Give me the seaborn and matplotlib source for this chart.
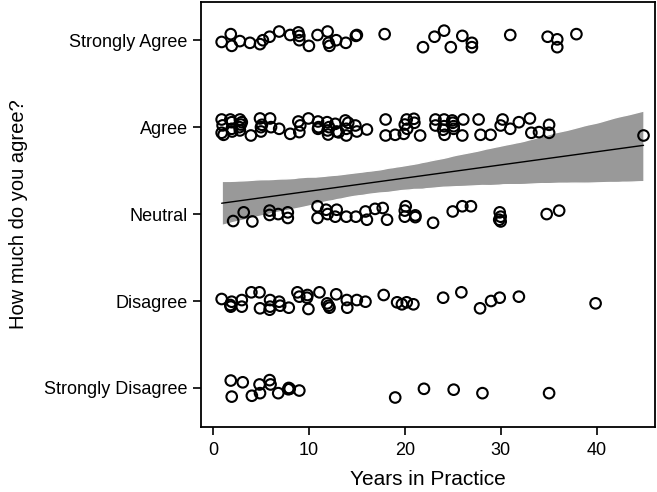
#likert answers vs years in practice

import numpy as np
import pandas as pd
import matplotlib
matplotlib.use("Agg")
import matplotlib.pyplot as plt
import seaborn as sns

#tick labels for the answer levels (1..5)
levels = ["Strongly Disagree", "Disagree", "Neutral", "Agree", "Strongly Agree"]

#years and vertical jitter, one pair of lists per answer
sa_years = [0.9, 1.85, 1.95, 2.8, 3.85, 4.9, 5.2, 5.9, 6.9, 8.05, 8.9, 9.0, 9.0, 10.0, 10.9,
            11.95, 12.05, 12.15, 12.85, 13.85, 14.9, 15.0, 17.9, 21.9, 23.1, 24.1, 24.8, 26.0,
            27.0, 27.0, 31.0, 34.9, 35.9, 35.9, 37.9]
sa_jit = [-0.02, 0.07, -0.065, -0.01, -0.03, -0.045, 0, 0.04, 0.1, 0.06, 0.09, 0.05, 0, -0.065, 0.06,
          0.1, -0.03, -0.065, 0, -0.03, 0.05, 0.06, 0.07, -0.08, 0.04, 0.11, -0.08, 0.05,
          -0.03, -0.08, 0.06, 0.04, 0.01, -0.08, 0.07]

ag_years = [0.9, 0.9, 1.1, 1.8, 1.95, 1.95, 2.8, 3.0, 2.8, 2.75, 3.95, 4.9, 5.0, 5.1, 5.0, 5.95, 6.05,
            6.9, 8.05, 8.9, 9.0, 9.95, 10.95, 10.95, 11.9, 11.95, 12.75, 12.9, 13.8, 13.9, 13.9,
            14.85, 15.0, 16.05, 1.0, 2.0, 2.9, 9.1, 12.1, 13.1, 14.1, 12.0, 11.0,
            18.0, 18.0, 19.0, 19.9, 20.2, 20.25, 20.95, 21.0, 21.6, 23.2, 23.2, 24.1, 24.1, 24.15,
            24.95, 25.1, 25.1, 26.0, 26.1, 27.7, 27.9, 28.95, 30.2, 30.0, 31.0, 31.9, 33.05, 33.2,
            34.0, 35.05, 35.05, 44.9, 20.0, 24.0, 25.0]
ag_jit = [0.088, -0.065, -0.088, 0.088, 0.057, -0.019, 0.088, 0.057, -0.038, 0, -0.096, 0.1, 0, 0.027,
          -0.05, 0.1, 0, -0.019, -0.077, 0.065, -0.057, 0.1, 0.065, -0.019, 0.057, -0.038, 0.038,
          -0.05, 0.077, -0.019, -0.096, 0.019, -0.05, -0.027, 0.02, -0.05, 0.03, 0.02, 0.0, -0.06,
          0.05, -0.085, 0.0,
          0.088, -0.096, -0.088, -0.077, 0.088, -0.019, 0.096, 0.05, -0.096, 0.088, 0.019, 0.088,
          0.011, -0.088, 0.077, 0.011, -0.019, -0.096, 0.088, 0.088, -0.088, -0.088, 0.088, 0.019,
          -0.019, 0.057, 0.1, -0.065, -0.057, 0.027, -0.065, -0.096, 0.03, -0.03, 0.05]

ne_years = [2.1, 3.2, 4.1, 5.9, 5.9, 6.8, 7.8, 7.8, 10.9, 10.9, 11.8, 11.95, 12.9, 12.75, 13.9, 14.9,
            15.9, 16.05, 16.9, 17.7, 18.15, 20.1, 20.0, 20.0, 21.1, 21.1, 22.95, 25.0, 26.0, 26.9,
            29.9, 30.0, 30.0, 29.85, 34.8, 36.1]
ne_jit = [-0.08, 0.02, -0.085, 0.04, -0.01, 0, 0.02, -0.045, 0.09, -0.045, 0.05, 0, 0.05, -0.03, -0.03,
          -0.03, 0.03, -0.065, 0.06, 0.07, -0.065, 0.09, 0.04, -0.03, -0.015, -0.035, -0.1, 0.03,
          0.09, 0.09, 0.02, -0.03, -0.085, -0.065, 0, 0.04]

di_years = [0.9, 1.8, 1.95, 1.85, 3.0, 3.0, 4.0, 4.85, 4.9, 5.95, 5.9, 5.95, 6.9, 7.0, 7.9, 8.8, 9.0,
            9.8, 9.85, 9.95, 11.1, 11.9, 12.05, 12.15, 12.85, 13.95, 14.0, 15.0, 15.9, 17.8, 19.2,
            19.7, 20.2, 20.9, 24.0, 25.9, 27.85, 29.0, 29.9, 31.9, 39.9]
di_jit = [0.023, -0.046, -0.008, -0.065, 0.011, -0.065, 0.1, 0.1, -0.084, 0.011, -0.1, -0.065, -0.008,
          -0.054, -0.077, 0.1, 0.05, 0.038, 0.069, -0.092, 0.1, -0.027, -0.054, -0.077, 0.077, 0.011,
          -0.077, 0.011, -0.008, 0.069, -0.015, -0.038, -0.015, -0.038, 0.038, 0.1, -0.084, 0, 0.038,
          0.05, -0.027]

sd_years = [1.85, 1.95, 3.1, 4.05, 4.85, 4.9, 5.9, 6.0, 6.8, 7.9, 8.0, 7.85, 9.0, 19.0, 22.0, 25.1,
            28.1, 35.05]
sd_jit = [0.085, -0.1, 0.065, -0.09, 0.04, -0.06, 0.09, 0.04, -0.06, 0.0, -0.01, -0.015, -0.03,
          -0.11, -0.01, -0.02, -0.06, -0.06]

#gabung jadi satu tabel
parts = []
for lvl, yrs, jit in [(5, sa_years, sa_jit), (4, ag_years, ag_jit), (3, ne_years, ne_jit),
                      (2, di_years, di_jit), (1, sd_years, sd_jit)]:
    parts.append(pd.DataFrame({"years": yrs, "answer": lvl, "jitter": jit}))
df = pd.concat(parts, ignore_index=True)
df["answer_j"] = df["answer"] + df["jitter"]

sns.set_theme(style="ticks")
plt.rcParams["font.family"] = ["Liberation Sans", "DejaVu Sans"]
plt.rcParams["axes.labelcolor"] = "black"
plt.rcParams["text.color"] = "black"

fig = plt.figure(figsize=(6.57, 4.92), dpi=100)
ax = fig.add_axes([0.306, 0.132, 0.691, 0.864])

#fit line with band
sns.regplot(data=df, x="years", y="answer", scatter=False, ci=90, ax=ax,
            line_kws={"color": "black", "linewidth": 1.0},
            color="#8c8c8c")
for coll in ax.collections:
    coll.set_alpha(1.0)
    coll.set_facecolor("#999999")

#jittered points
sns.scatterplot(data=df, x="years", y="answer_j", ax=ax, s=58, facecolor="none",
                edgecolor="black", linewidth=1.5, zorder=3)

ax.set_xlim(-1.25, 46.1)
ax.set_ylim(0.55, 5.44)
ax.set_xticks([0, 10, 20, 30, 40])
ax.set_yticks([1, 2, 3, 4, 5])
ax.set_yticklabels(levels)
ax.tick_params(axis="both", labelsize=13, length=6, width=1.2, color="black", labelcolor="black")
ax.tick_params(axis="x", pad=5)
for sp in ax.spines.values():
    sp.set_linewidth(1.3)
    sp.set_color("black")
ax.set_xlabel("Years in Practice", fontsize=15, labelpad=8, color="black")
ax.set_ylabel("How much do you agree?", fontsize=14.5, labelpad=12, color="black")

fig.savefig("out.png", dpi=100, facecolor="white")
